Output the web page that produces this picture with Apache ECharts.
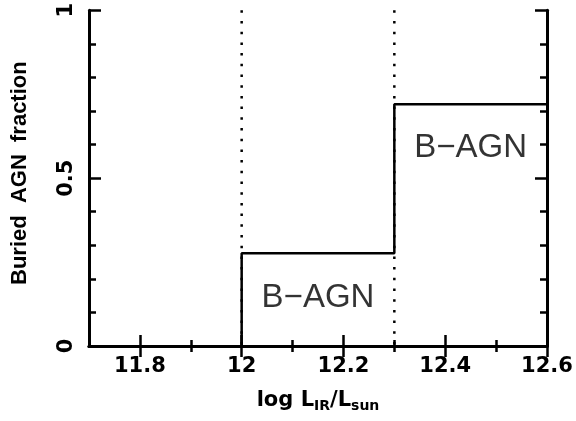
<!DOCTYPE html>
<html><head><meta charset="utf-8">
<script src="https://cdn.jsdelivr.net/npm/echarts@6/dist/echarts.min.js"></script>
<style>html,body{margin:0;padding:0;background:#fff}#c{width:576px;height:421px}</style>
</head><body><div id="c"></div>
<script>
const binEdges = [12.0, 12.3, 12.6];
const agnFraction = [0.276, 0.72];
const dividers = [12.0, 12.3];
const xMajorTicks = [11.8, 12.0, 12.2, 12.4, 12.6];
const xMinorTicks = [11.9, 12.1, 12.3, 12.5];
const yMajorTicks = [0, 0.5, 1];
const yMinorTicks = [0.1, 0.2, 0.3, 0.4, 0.6, 0.7, 0.8, 0.9];
const annotText = ['B\u2212AGN', 'B\u2212AGN'];
const annotX = [12.15, 12.45];
const annotY = [0.144, 0.59];

const stepPts = [[binEdges[0], 0]];
agnFraction.forEach((f, i) => { stepPts.push([binEdges[i], f]); stepPts.push([binEdges[i + 1], f]); });

const FF = 'Liberation Sans';
const FB = 'DejaVu Sans';
const blk = '#000';
function xAx(pos, ticks, len, main) {
  return {
    type: 'value', min: 11.7, max: 12.6, position: pos,
    axisLine: { show: main, lineStyle: { color: blk, width: 3 } },
    axisTick: { show: true, inside: true, length: len, customValues: ticks, lineStyle: { color: blk, width: 2.5 } },
    axisLabel: { show: main && pos === 'bottom', customValues: ticks, fontSize: 21, fontWeight: 'bold', fontFamily: FB, color: blk, margin: 10 },
    splitLine: { show: false }
  };
}
function yAx(pos, ticks, len, main) {
  return {
    type: 'value', min: 0, max: 1, position: pos,
    axisLine: { show: main, lineStyle: { color: blk, width: 3 } },
    axisTick: { show: true, inside: true, length: len, customValues: ticks, lineStyle: { color: blk, width: 2.5 } },
    axisLabel: { show: main && pos === 'left', customValues: ticks, rotate: 90, fontSize: 21, fontWeight: 'bold', fontFamily: FB, color: blk, margin: 12 },
    splitLine: { show: false }
  };
}
const xAxes = [xAx('bottom', xMajorTicks, 11, true), xAx('bottom', xMinorTicks, 6, false), xAx('top', xMajorTicks, 11, true), xAx('top', xMinorTicks, 6, false)];
Object.assign(xAxes[0], {
  name: '{n|log L}{s|IR}{n|/L}{s|sun}', nameLocation: 'middle', nameGap: 44,
  nameTextStyle: { rich: {
    n: { fontSize: 21, fontWeight: 'bold', fontFamily: FB, color: blk, verticalAlign: 'bottom', padding: [0, 0, 2, 0] },
    s: { fontSize: 14, fontWeight: 'bold', fontFamily: FB, color: blk, verticalAlign: 'bottom' }
  } }
});
const yAxes = [yAx('left', yMajorTicks, 12, true), yAx('left', yMinorTicks, 7, false), yAx('right', yMajorTicks, 12, true), yAx('right', yMinorTicks, 7, false)];
Object.assign(yAxes[0], {
  name: 'Buried  AGN  fraction', nameLocation: 'middle', nameGap: 58,
  nameTextStyle: { fontSize: 22, fontWeight: 'bold', fontFamily: FF, color: blk, padding: [0, 0, 0, 10] }
});

const series = [];
dividers.forEach(d => series.push({
  type: 'line', xAxisIndex: 0, yAxisIndex: 0, symbol: 'none', silent: true, z: 1,
  data: [[d, 1], [d, 0]],
  lineStyle: { color: blk, width: 2.5, type: [2.5, 8.2] }
}));
series.push({
  type: 'line', xAxisIndex: 0, yAxisIndex: 0, symbol: 'none', silent: true, z: 3,
  data: stepPts, lineStyle: { color: blk, width: 2.5 }
});
series.push({
  type: 'scatter', xAxisIndex: 0, yAxisIndex: 0, symbolSize: 0, silent: true, z: 4,
  itemStyle: { color: blk },
  data: annotText.map((t, i) => ({ name: t, value: [annotX[i], annotY[i]] })),
  label: { show: true, position: [0, 0], align: 'center', verticalAlign: 'middle', formatter: p => p.name,
    fontSize: 33, fontFamily: FF, color: blk, textBorderWidth: 0 }
});

const chart = echarts.init(document.getElementById('c'), null, { renderer: 'canvas' });
chart.setOption({
  animation: false,
  backgroundColor: '#fff',
  grid: { left: 89, right: 29, top: 6, bottom: 75, containLabel: false },
  xAxis: xAxes, yAxis: yAxes, series: series
});
</script></body></html>
